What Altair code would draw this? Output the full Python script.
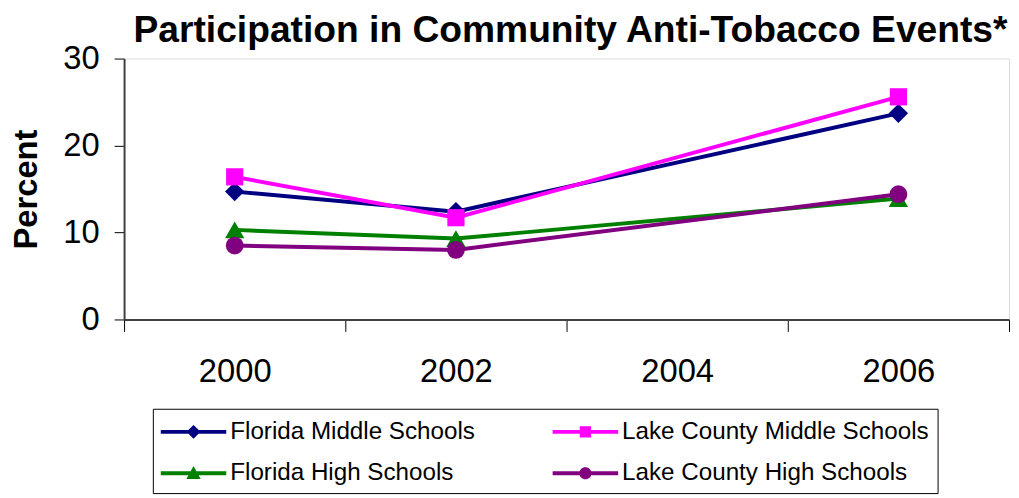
import altair as alt
import pandas as pd

# ---- data ----
categories = ["2000", "2002", "2004", "2006"]
data_years = ["2000", "2002", "2006"]
series_names = [
    "Florida Middle Schools",
    "Lake County Middle Schools",
    "Florida High Schools",
    "Lake County High Schools",
]
florida_middle = [14.7, 12.4, 23.7]
lake_middle = [16.4, 11.7, 25.6]
florida_high = [10.3, 9.3, 13.9]
lake_high = [8.5, 8.0, 14.4]
y_ticks = [0, 10, 20, 30]

# ---- styles ----
colors = ["#000080", "#FF00FF", "#008000", "#800080"]
marker_shapes = ["diamond", "square", "triangle-up", "circle"]
marker_sizes = [380, 300, 380, 320]
bar = "M-1,-0.13L3.4,-0.13L3.4,0.13L-1,0.13Z"
legend_paths = [
    bar + "M1.2,-0.47L1.67,0L1.2,0.47L0.73,0Z",
    bar + "M0.82,-0.38L1.58,-0.38L1.58,0.38L0.82,0.38Z",
    bar + "M1.2,-0.48L1.68,0.38L0.72,0.38Z",
    bar + "M0.79,0A0.41,0.41 0 1,1 1.61,0A0.41,0.41 0 1,1 0.79,0Z",
]
FONT = "Liberation Sans"

values = [florida_middle, lake_middle, florida_high, lake_high]
rows = []
for name, vals in zip(series_names, values):
    for yr, v in zip(data_years, vals):
        rows.append({"year": yr, "series": name, "value": v})
df = pd.DataFrame(rows)

x_enc = alt.X(
    "year:O",
    bandPosition=0.5,
    scale=alt.Scale(type="band", domain=categories, paddingInner=0, paddingOuter=0),
    axis=alt.Axis(
        title=None,
        labelAngle=0,
        tickBand="extent",
        labelFont=FONT,
        labelFontSize=33,
        labelColor="black",
        labelPadding=25,
        tickSize=12,
        tickColor="black",
        tickWidth=1,
        domainColor="#404040",
        domainWidth=2,
        grid=False,
    ),
)
y_enc = alt.Y(
    "value:Q",
    scale=alt.Scale(domain=[0, 30], nice=False, zero=True),
    axis=alt.Axis(
        values=y_ticks,
        title="Percent",
        titleFont=FONT,
        titleFontSize=33,
        titleFontWeight="bold",
        titleColor="black",
        titlePadding=20,
        labelFont=FONT,
        labelFontSize=33,
        labelColor="black",
        labelPadding=15,
        tickSize=10,
        tickColor="black",
        tickWidth=1,
        domainColor="#404040",
        domainWidth=2,
        grid=False,
    ),
)

layers = []
for name, col, shp, sz in zip(series_names, colors, marker_shapes, marker_sizes):
    base = alt.Chart(df).transform_filter(alt.datum.series == name)
    layers.append(base.mark_line(color=col, strokeWidth=4).encode(x=x_enc, y=y_enc))
    layers.append(
        base.mark_point(filled=True, shape=shp, size=sz, color=col, opacity=1).encode(
            x=x_enc, y=y_enc
        )
    )

legend = alt.Legend(
    title=None,
    orient="none",
    direction="horizontal",
    legendX=29,
    legendY=353,
    columns=2,
    columnPadding=78,
    rowPadding=15,
    padding=8,
    strokeColor="black",
    fillColor="white",
    symbolSize=900,
    symbolOpacity=1,
    symbolStrokeWidth=0,
    labelFont=FONT,
    labelFontSize=24.4,
    labelColor="black",
    labelOffset=40,
    labelLimit=0,
)
legend_layer = alt.Chart(df).mark_point(filled=True, opacity=0).encode(
    x=x_enc,
    y=y_enc,
    color=alt.Color("series:N", scale=alt.Scale(domain=series_names, range=colors), legend=legend),
    shape=alt.Shape("series:N", scale=alt.Scale(domain=series_names, range=legend_paths), legend=legend),
)
layers.append(legend_layer)

chart = (
    alt.layer(*layers)
    .properties(
        width=892,
        height=263,
        title=alt.TitleParams(
            text="Participation in Community Anti-Tobacco Events*",
            font=FONT,
            fontSize=37.5,
            fontWeight="bold",
            color="black",
            anchor="middle",
            frame="group",
            offset=-7,
            dx=4,
        ),
        autosize=alt.AutoSizeParams(type="none"),
        padding={"left": 117, "top": 49, "right": 2, "bottom": 178},
    )
    .configure_view(stroke="#808080", strokeWidth=2)
    .configure(background="white")
)

chart.save("out.html", embed_options={"renderer": "svg", "actions": False})
